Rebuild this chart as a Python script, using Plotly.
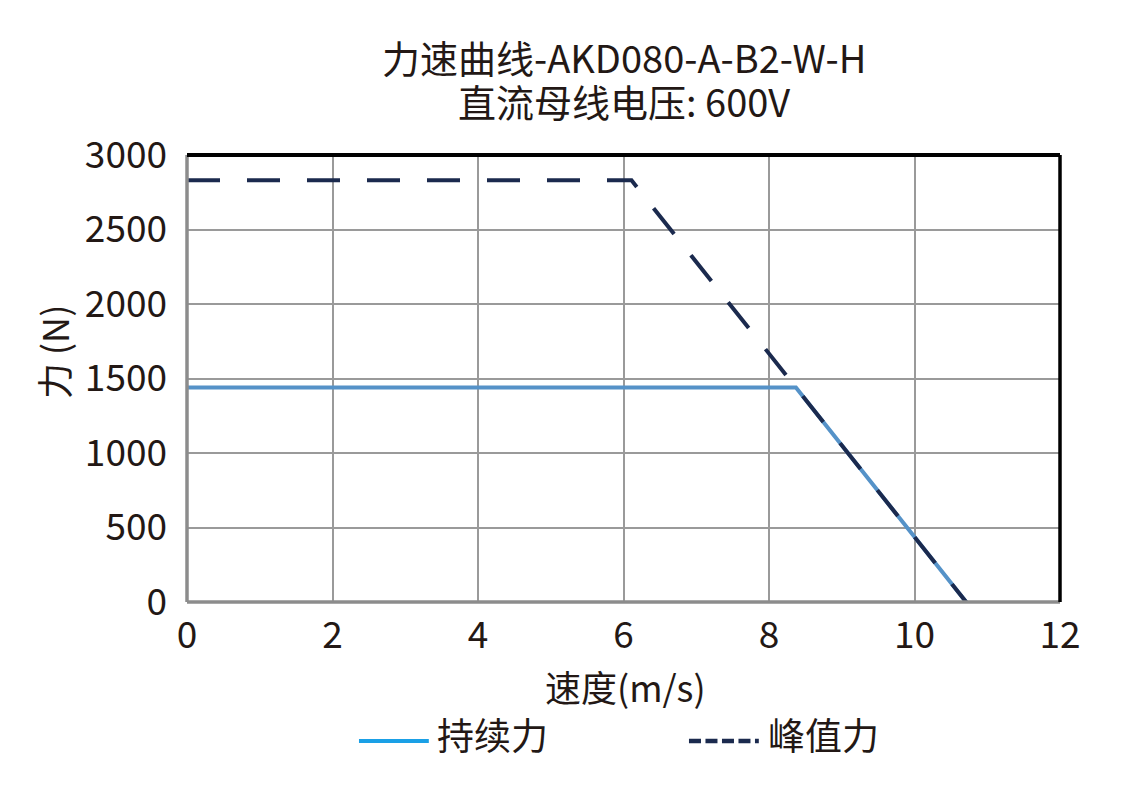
import plotly.graph_objects as go

# force-speed curve data
speed_cont = [0, 8.37, 10.71]
force_cont = [1440, 1440, 0]
speed_peak = [0, 6.11, 10.71]
force_peak = [2830, 2830, 0]

x_ticks = [0, 2, 4, 6, 8, 10, 12]
y_ticks = [0, 500, 1000, 1500, 2000, 2500, 3000]

title_1 = "力速曲线-AKD080-A-B2-W-H"
title_2 = "直流母线电压: 600V"
x_title = "速度(m/s)"
y_title = "力 (N)"
legend_cont = "持续力"
legend_peak = "峰值力"

FONT = "Noto Sans CJK SC"
TXT = "#231815"
BLUE = "#5592c8"
NAVY = "#1b2a4e"
LEG_BLUE = "#1aa0e6"

fig = go.Figure()

# continuous force
fig.add_trace(go.Scatter(x=speed_cont, y=force_cont, mode="lines",
                         line=dict(color=BLUE, width=4), name=legend_cont))
# peak force, drawn on top
fig.add_trace(go.Scatter(x=speed_peak, y=force_peak, mode="lines",
                         line=dict(color=NAVY, width=4, dash="33px,27px"), name=legend_peak))

# page has an 8px body margin, so margins are shifted by 8
fig.update_layout(
    width=1127, height=791,
    margin=dict(l=179, r=75, t=147, b=197),
    paper_bgcolor="white", plot_bgcolor="white",
    font=dict(family=FONT, size=36, color=TXT),
    showlegend=False,
)

fig.update_xaxes(range=[0, 12], tickvals=x_ticks, showgrid=True,
                 gridcolor="#9a9a9a", gridwidth=1.5, zeroline=False,
                 showline=False, ticks="", ticklabelstandoff=8,
                 tickfont=dict(size=37))
fig.update_yaxes(range=[0, 3000], tickvals=y_ticks, showgrid=True,
                 gridcolor="#9a9a9a", gridwidth=1.5, zeroline=False,
                 showline=False, ticks="", ticklabelstandoff=19,
                 tickfont=dict(size=37))

# frame: grey left/bottom, black top/right
fig.add_shape(type="line", xref="paper", yref="paper", x0=0, x1=0, y0=0, y1=1,
              line=dict(color="#8c8c8c", width=3.5))
fig.add_shape(type="line", xref="paper", yref="paper", x0=0, x1=1, y0=0, y1=0,
              line=dict(color="#8c8c8c", width=3.5))
fig.add_shape(type="line", xref="paper", yref="paper", x0=0, x1=1, y0=1, y1=1,
              line=dict(color="black", width=4))
fig.add_shape(type="line", xref="paper", yref="paper", x0=1, x1=1, y0=0, y1=1,
              line=dict(color="black", width=3.5))

# title, two lines
fig.add_annotation(text=title_1, xref="paper", yref="paper", x=0.5, y=1.221,
                   xanchor="center", yanchor="middle", showarrow=False,
                   font=dict(size=38, color=TXT))
fig.add_annotation(text=title_2, xref="paper", yref="paper", x=0.5, y=1.121,
                   xanchor="center", yanchor="middle", showarrow=False,
                   font=dict(size=38, color=TXT))

# axis titles
fig.add_annotation(text=x_title, xref="paper", yref="paper", x=0.502, y=-0.188,
                   xanchor="center", yanchor="middle", showarrow=False,
                   font=dict(size=36, color=TXT))
fig.add_annotation(text=y_title, xref="paper", yref="paper", x=-0.1535, y=0.559,
                   xanchor="center", yanchor="middle", textangle=-90,
                   showarrow=False, font=dict(size=36, color=TXT))

# legend: line samples + text
fig.add_shape(type="line", xref="paper", yref="paper", x0=0.197, x1=0.277,
              y0=-0.311, y1=-0.311, line=dict(color=LEG_BLUE, width=4))
fig.add_annotation(text=legend_cont, xref="paper", yref="paper", x=0.284, y=-0.295,
                   xanchor="left", yanchor="middle", showarrow=False,
                   font=dict(size=37, color=TXT))
fig.add_shape(type="line", xref="paper", yref="paper", x0=0.575, x1=0.655,
              y0=-0.311, y1=-0.311, line=dict(color=NAVY, width=4.5, dash="12px,4.5px"))
fig.add_annotation(text=legend_peak, xref="paper", yref="paper", x=0.663, y=-0.295,
                   xanchor="left", yanchor="middle", showarrow=False,
                   font=dict(size=37, color=TXT))

fig.write_html("out.html")
